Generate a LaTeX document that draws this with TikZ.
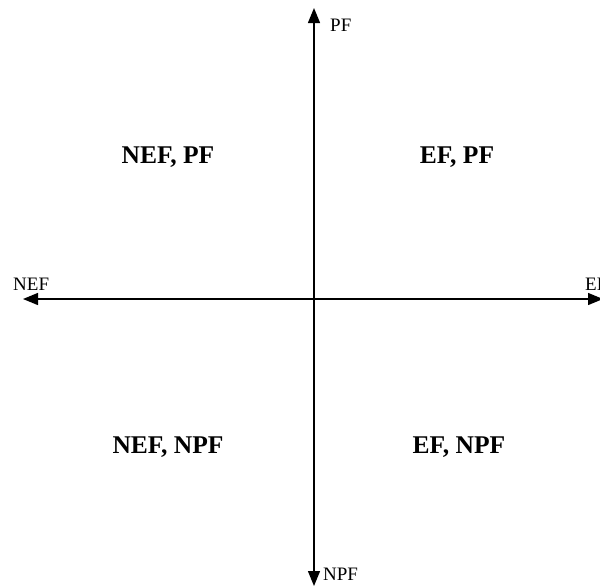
\documentclass[tikz,border=0pt]{standalone}
\usepackage{fontspec}
\setmainfont{Liberation Serif}
\usetikzlibrary{arrows.meta}
\begin{document}
\begin{tikzpicture}[x=1pt,y=-1pt,
  axis/.style={line width=1.3pt,{Triangle[width=12pt,length=15pt]}-{Triangle[width=12pt,length=15pt]}},
  axlabel/.style={anchor=base west,inner sep=0pt,font=\fontsize{19}{19}\selectfont},
  quad/.style={anchor=base,inner sep=0pt,font=\fontsize{25.5}{25.5}\selectfont\bfseries}]
\useasboundingbox (0,0) rectangle (600,587);
\coordinate (top) at (314,8);
\coordinate (bot) at (314,586);
\coordinate (left) at (23,299);
\coordinate (right) at (603,299);
\draw[axis] (bot) -- (top);
\draw[axis] (left) -- (right);
\node[axlabel] (pf) at (330,31) {PF};
\node[axlabel] (npf) at (323,580) {NPF};
\node[axlabel] (nef) at (13,290) {NEF};
\node[axlabel] (ef) at (585,290) {EF};
\node[quad] (q2) at (168,163) {NEF, PF};
\node[quad] (q1) at (457,163) {EF, PF};
\node[quad] (q3) at (168,453) {NEF, NPF};
\node[quad] (q4) at (459,453) {EF, NPF};
\end{tikzpicture}
\end{document}
